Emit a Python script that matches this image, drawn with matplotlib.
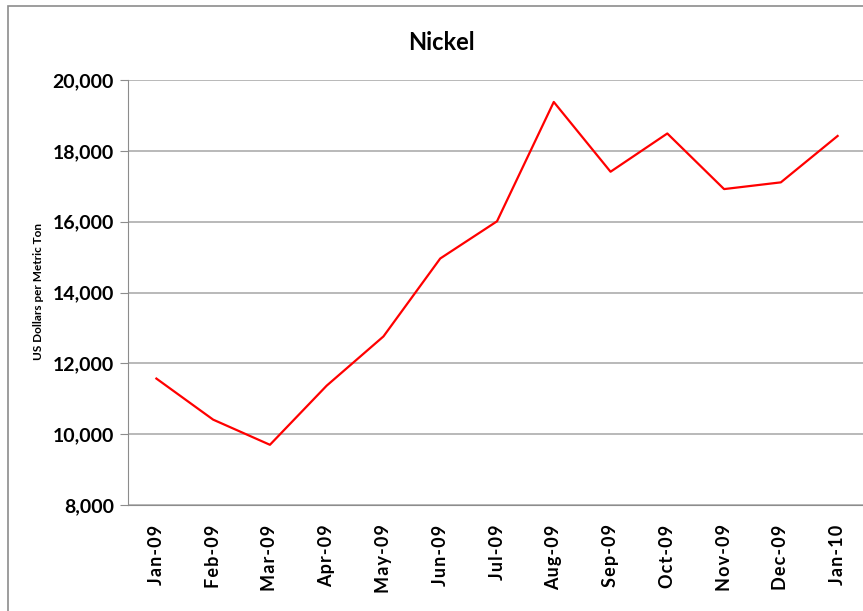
import matplotlib.pyplot as plt
from matplotlib.patches import Rectangle
from matplotlib.ticker import FuncFormatter

months = ['Jan-09', 'Feb-09', 'Mar-09', 'Apr-09', 'May-09', 'Jun-09', 'Jul-09',
          'Aug-09', 'Sep-09', 'Oct-09', 'Nov-09', 'Dec-09', 'Jan-10']
price = [11570, 10410, 9700, 11370, 12760, 14960, 16010,
         19380, 17410, 18490, 16920, 17110, 18420]

plt.rcParams['font.family'] = ['Lato', 'DejaVu Sans']
plt.rcParams['font.weight'] = 'bold'

W, H = 863, 611
fig = plt.figure(figsize=(W / 100, H / 100), dpi=100)

# chart frame
fig.patches.append(Rectangle((8 / W, -0.01), 1.0, 1 - 6 / H + 0.01,
                             transform=fig.transFigure, fill=False,
                             edgecolor='#8c8c8c', linewidth=1.2))

left, right, top, bot = 128, 866, 80, 505
ax = fig.add_axes([left / W, 1 - bot / H, (right - left) / W, (bot - top) / H])

x = range(len(months))
ax.plot(x, price, color='#ff0000', linewidth=1.6)

ax.set_xlim(-0.5, len(months) - 0.5)
ax.set_ylim(8000, 20000)
ax.set_yticks(range(8000, 20001, 2000))
ax.yaxis.set_major_formatter(FuncFormatter(lambda v, p: f'{int(v):,}'))
ax.set_xticks(list(x))
ax.set_xticklabels(['\u200a'.join(m) for m in months], rotation=90)
ax.tick_params(axis='x', length=0, pad=14, labelsize=13)
ax.tick_params(axis='y', length=6, color='#8c8c8c', labelsize=14, pad=4)

ax.grid(axis='y', color='#a6a6a6', linewidth=1.1)
ax.set_axisbelow(True)
for s in ['top', 'right']:
    ax.spines[s].set_visible(False)
for s in ['left', 'bottom']:
    ax.spines[s].set_color('#8c8c8c')

fig.text(441 / W, 1 - 42 / H, 'Nickel', ha='center', va='center',
         fontsize=17, fontweight='bold')
fig.text(38 / W, 1 - 292 / H, 'US Dollars per Metric Ton', rotation=90,
         ha='center', va='center', fontsize=8.5, fontweight='bold')

fig.savefig('out.png', dpi=100)
